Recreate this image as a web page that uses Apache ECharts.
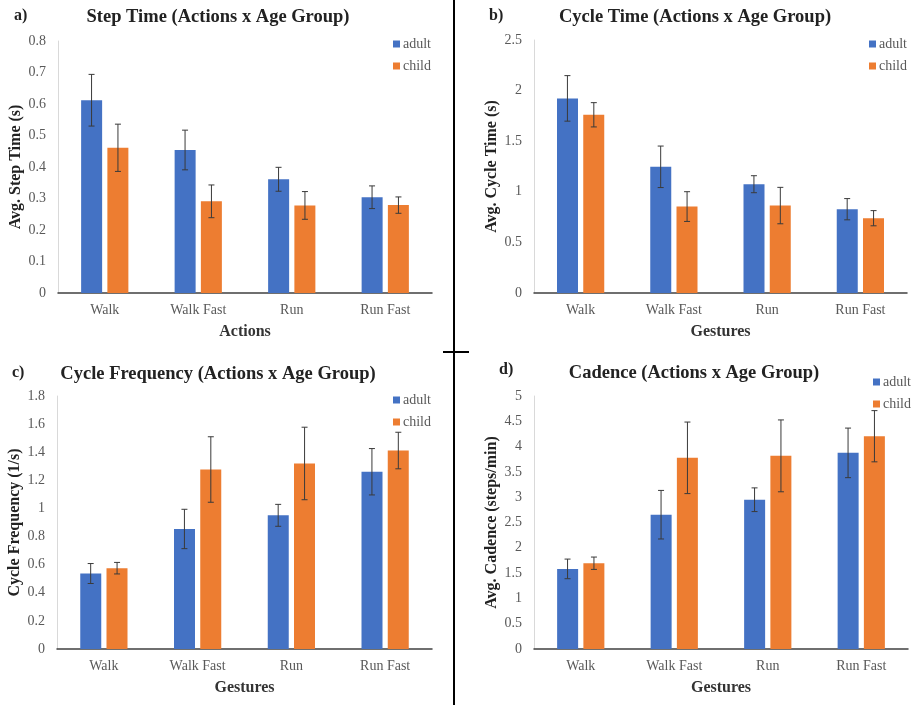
<!DOCTYPE html>
<html lang="en" style="height: 100%">
<head>
  <meta charset="utf-8">
</head>
<body style="height: 100%; margin: 0; background: #fff">
  <div id="container" style="width: 914px; height: 705px"></div>
  <script type="text/javascript" src="https://cdn.jsdelivr.net/npm/echarts@6/dist/echarts.min.js"></script>
  <script type="text/javascript">

    // categories shared by all four panels
    var actions = ['Walk', 'Walk Fast', 'Run', 'Run Fast'];

    // a) step time
    var stepAdult = [0.612, 0.454, 0.361, 0.304];
    var stepChild = [0.461, 0.291, 0.278, 0.279];
    var stepAdultErr = [0.082, 0.063, 0.038, 0.036];
    var stepChildErr = [0.075, 0.052, 0.044, 0.026];

    // b) cycle time
    var cycleAdult = [1.923, 1.247, 1.075, 0.828];
    var cycleChild = [1.761, 0.854, 0.864, 0.739];
    var cycleAdultErr = [0.225, 0.205, 0.084, 0.105];
    var cycleChildErr = [0.12, 0.147, 0.18, 0.075];

    // c) cycle frequency
    var freqAdult = [0.537, 0.854, 0.951, 1.261];
    var freqChild = [0.575, 1.277, 1.320, 1.412];
    var freqAdultErr = [0.071, 0.14, 0.078, 0.165];
    var freqChildErr = [0.041, 0.233, 0.258, 0.13];

    // d) cadence
    var cadAdult = [1.583, 2.654, 2.950, 3.876];
    var cadChild = [1.695, 3.778, 3.817, 4.205];
    var cadAdultErr = [0.194, 0.48, 0.234, 0.49];
    var cadChildErr = [0.122, 0.707, 0.71, 0.506];

    var blue = '#4472c4';
    var orange = '#ed7d31';
    var serif = '"Liberation Serif", "DejaVu Serif", serif';
    var barW = 21;
    var shift = 13.2; // half distance between the two bar centres

    var panels = [
      { tag: 'a)', title: 'Step Time (Actions x Age Group)', yName: 'Avg. Step Time (s)', xName: 'Actions',
        max: 0.8, step: 0.1, adult: stepAdult, child: stepChild, ea: stepAdultErr, ec: stepChildErr,
        grid: { left: 58, top: 41, width: 374, height: 252 }, tagPos: [14, 8], titleX: 218, titleY: 8, legend: [393, 37] },
      { tag: 'b)', title: 'Cycle Time (Actions x Age Group)', yName: 'Avg. Cycle Time (s)', xName: 'Gestures',
        max: 2.5, step: 0.5, adult: cycleAdult, child: cycleChild, ea: cycleAdultErr, ec: cycleChildErr,
        grid: { left: 534, top: 40, width: 373, height: 253 }, tagPos: [489, 8], titleX: 695, titleY: 8, legend: [869, 37] },
      { tag: 'c)', title: 'Cycle Frequency (Actions x Age Group)', yName: 'Cycle Frequency (1/s)', xName: 'Gestures',
        max: 1.8, step: 0.2, adult: freqAdult, child: freqChild, ea: freqAdultErr, ec: freqChildErr,
        grid: { left: 57, top: 396, width: 375, height: 253 }, tagPos: [12, 365], titleX: 218, titleY: 365, legend: [393, 393] },
      { tag: 'd)', title: 'Cadence (Actions x Age Group)', yName: 'Avg. Cadence (steps/min)', xName: 'Gestures',
        max: 5, step: 0.5, adult: cadAdult, child: cadChild, ea: cadAdultErr, ec: cadChildErr,
        grid: { left: 534, top: 396, width: 374, height: 253 }, tagPos: [499, 362], titleX: 694, titleY: 364, legend: [873, 375] }
    ];

    function errorBars(params, api) {
      var dx = params.seriesName === 'adult err' ? -shift : shift;
      var idx = api.value(0);
      var v = api.value(1);
      var e = api.value(2);
      var hi = api.coord([idx, v + e]);
      var lo = api.coord([idx, v - e]);
      var x = hi[0] + dx;
      var style = { stroke: '#3a3a3a', lineWidth: 1 };
      return {
        type: 'group',
        children: [
          { type: 'line', shape: { x1: x, y1: hi[1], x2: x, y2: lo[1] }, style: style },
          { type: 'line', shape: { x1: x - 3, y1: hi[1], x2: x + 3, y2: hi[1] }, style: style },
          { type: 'line', shape: { x1: x - 3, y1: lo[1], x2: x + 3, y2: lo[1] }, style: style }
        ]
      };
    }

    var option = {
      animation: false,
      backgroundColor: '#fff',
      title: [],
      legend: [],
      grid: [],
      xAxis: [],
      yAxis: [],
      series: [],
      graphic: [
        { type: 'line', shape: { x1: 454, y1: 0, x2: 454, y2: 705 }, style: { stroke: '#000', lineWidth: 2 } },
        { type: 'line', shape: { x1: 443, y1: 352, x2: 469, y2: 352 }, style: { stroke: '#000', lineWidth: 2 } }
      ]
    };

    panels.forEach(function (p, i) {
      option.title.push({
        text: p.tag, left: p.tagPos[0], top: p.tagPos[1], padding: 0,
        textStyle: { fontFamily: serif, fontSize: 16, fontWeight: 'bold', color: '#222' }
      });
      option.title.push({
        text: p.title, left: p.titleX, top: p.titleY, textAlign: 'center', padding: 0,
        textStyle: { fontFamily: serif, fontSize: 18.5, fontWeight: 'bold', color: '#222' }
      });
      option.legend.push({
        data: ['adult', 'child'], orient: 'vertical', left: p.legend[0], top: p.legend[1],
        icon: 'rect', itemWidth: 7, itemHeight: 7, itemGap: 8, padding: 0, selectedMode: false,
        textStyle: { fontFamily: serif, fontSize: 14, color: '#595959', padding: [0, 0, 0, -2] }
      });
      option.grid.push(p.grid);
      option.xAxis.push({
        type: 'category', gridIndex: i, data: actions,
        name: p.xName, nameLocation: 'middle', nameGap: 31,
        nameTextStyle: { fontFamily: serif, fontSize: 16, fontWeight: 'bold', color: '#333' },
        axisLine: { lineStyle: { color: '#404040', width: 1.5 } },
        axisTick: { show: false },
        axisLabel: { fontFamily: serif, fontSize: 14, color: '#595959', margin: 10 }
      });
      option.yAxis.push({
        type: 'value', gridIndex: i, min: 0, max: p.max, interval: p.step,
        name: p.yName, nameLocation: 'middle', nameGap: 34,
        nameTextStyle: { fontFamily: serif, fontSize: 16, fontWeight: 'bold', color: '#222' },
        axisLine: { show: true, lineStyle: { color: '#d9d9d9', width: 1 } },
        axisTick: { show: false },
        splitLine: { show: false },
        axisLabel: { fontFamily: serif, fontSize: 14, color: '#595959', margin: 12 }
      });
      option.series.push({
        name: 'adult', type: 'bar', xAxisIndex: i, yAxisIndex: i, data: p.adult,
        barWidth: barW, barGap: '25%', itemStyle: { color: blue }
      });
      option.series.push({
        name: 'child', type: 'bar', xAxisIndex: i, yAxisIndex: i, data: p.child,
        barWidth: barW, barGap: '25%', itemStyle: { color: orange }
      });
      option.series.push({
        name: 'adult err', type: 'custom', xAxisIndex: i, yAxisIndex: i, z: 5,
        renderItem: errorBars,
        data: p.adult.map(function (v, k) { return [k, v, p.ea[k]]; })
      });
      option.series.push({
        name: 'child err', type: 'custom', xAxisIndex: i, yAxisIndex: i, z: 5,
        renderItem: errorBars,
        data: p.child.map(function (v, k) { return [k, v, p.ec[k]]; })
      });
    });

    var myChart = echarts.init(document.getElementById('container'), null, { renderer: 'canvas' });
    myChart.setOption(option);

  </script>
</body>
</html>
